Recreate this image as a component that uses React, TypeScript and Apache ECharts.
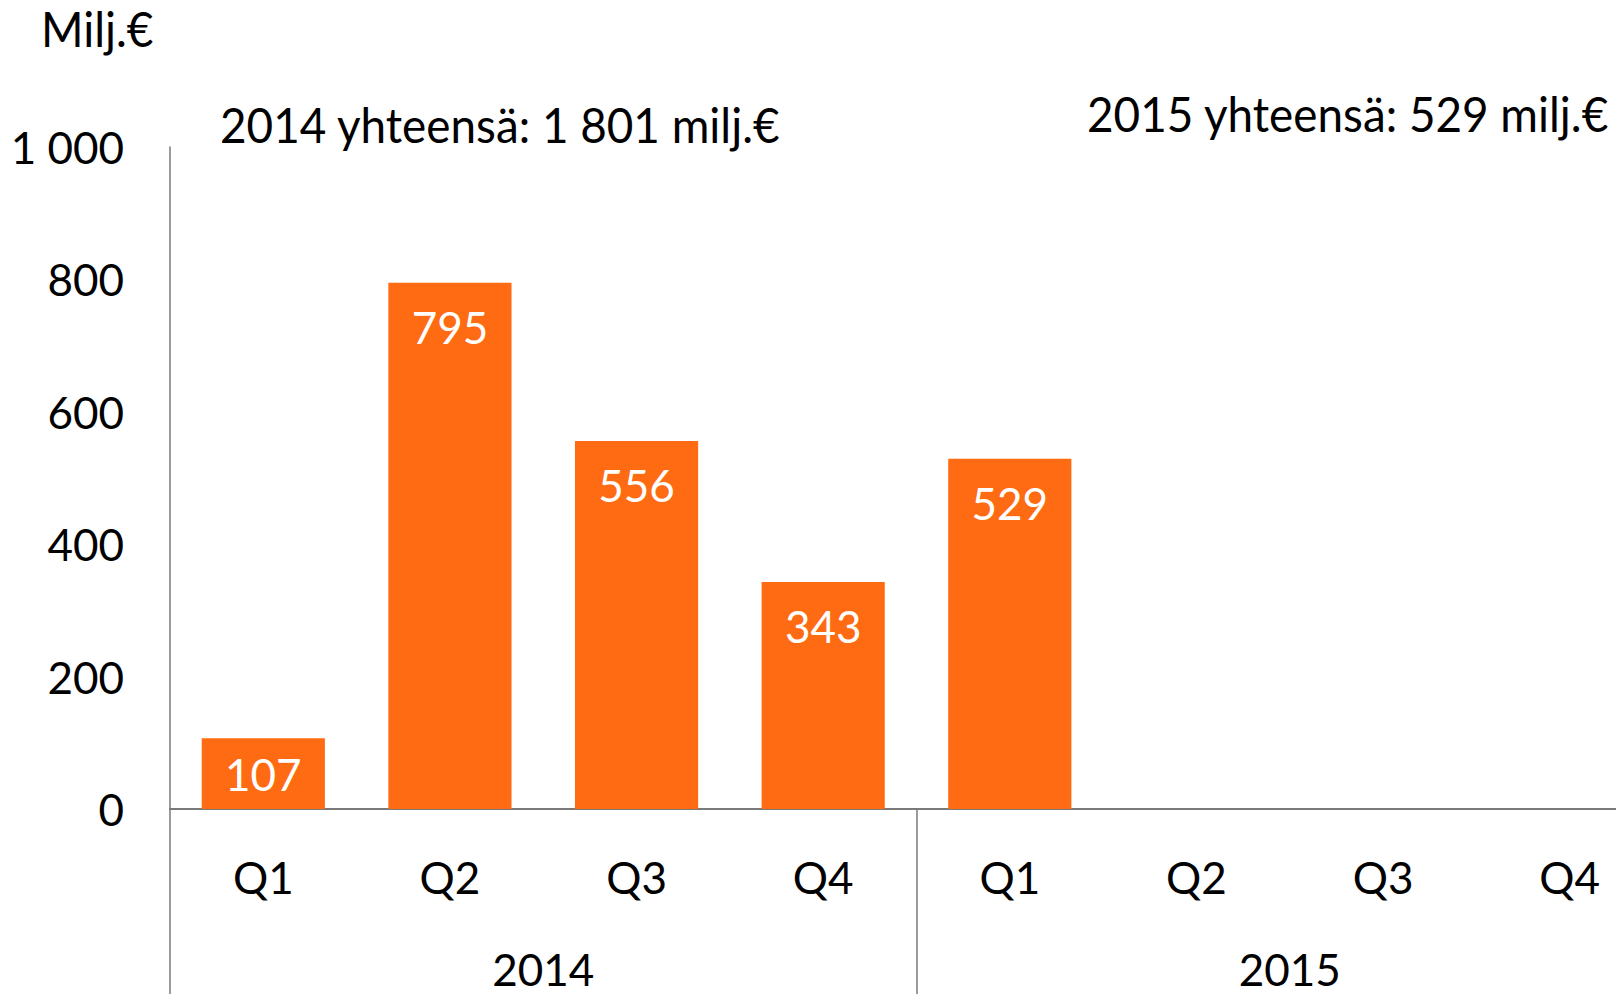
import React, { useEffect, useRef } from "react";
import * as echarts from "echarts";

const quarters = ["Q1", "Q2", "Q3", "Q4", "Q1", "Q2", "Q3", "Q4"];
const years = ["2014", "2015"];
const values: (number | null)[] = [107, 795, 556, 343, 529, null, null, null];
const yTicks = [0, 200, 400, 600, 800, 1000];
const unitLabel = "Milj.€";
const total2014 = "2014 yhteensä: 1 801 milj.€";
const total2015 = "2015 yhteensä: 529 milj.€";

const FONT = "Lato, sans-serif";
const AXIS = "#7a7a7a";
const CHART_W = 1700;

export default function App() {
  const ref = useRef<HTMLDivElement>(null);
  useEffect(() => {
    if (!ref.current) return;
    const chart = echarts.init(ref.current, undefined, { renderer: "svg" });
    chart.setOption({
      animation: false,
      backgroundColor: "#ffffff",
      textStyle: { fontFamily: FONT },
      grid: {
        left: 170,
        top: 147,
        bottom: 185,
        right: CHART_W - 1663,
        containLabel: false,
        outerBoundsMode: "none",
      },
      xAxis: [
        {
          type: "category",
          data: quarters,
          position: "bottom",
          axisLine: { show: true, lineStyle: { color: AXIS, width: 2 } },
          axisTick: { show: false },
          axisLabel: { color: "#000", fontSize: 44, lineHeight: 44, fontFamily: FONT, margin: 46, interval: 0 },
        },
        {
          type: "category",
          data: years,
          position: "bottom",
          axisLine: { show: false },
          axisTick: { show: true, length: 200, interval: 0, lineStyle: { color: AXIS, width: 1.5 } },
          axisLabel: { color: "#000", fontSize: 44, lineHeight: 44, fontFamily: FONT, margin: 138, interval: 0 },
        },
      ],
      yAxis: {
        type: "value",
        min: yTicks[0],
        max: yTicks[yTicks.length - 1],
        interval: 200,
        splitLine: { show: false },
        axisLine: { show: true, lineStyle: { color: AXIS, width: 1.5 } },
        axisTick: { show: false },
        axisLabel: {
          color: "#000",
          fontSize: 44,
          fontFamily: FONT,
          margin: 46,
          formatter: (v: number) => (v >= 1000 ? String(v).replace(/\B(?=(\d{3})+(?!\d))/g, " ") : String(v)),
        },
      },
      series: [
        {
          type: "bar",
          data: values.map((v) =>
            v != null && v < 150 ? { value: v, label: { position: "inside" } } : v
          ),
          xAxisIndex: 0,
          barCategoryGap: "34%",
          itemStyle: { color: "#FF6B12" },
          label: {
            show: true,
            position: "insideTop",
            distance: 22,
            color: "#fff",
            fontSize: 44,
            fontFamily: FONT,
          },
        },
      ],
      graphic: [
        {
          type: "text",
          x: 41,
          y: 5,
          scaleX: 0.955,
          style: { text: unitLabel, fontSize: 48, fontFamily: FONT, fill: "#000", verticalAlign: "top" },
        },
        {
          type: "text",
          x: 220,
          y: 101,
          scaleX: 0.955,
          style: { text: total2014, fontSize: 48, fontFamily: FONT, fill: "#000", verticalAlign: "top" },
        },
        {
          type: "text",
          x: 1087,
          y: 90,
          scaleX: 0.955,
          style: { text: total2015, fontSize: 48, fontFamily: FONT, fill: "#000", verticalAlign: "top" },
        },
      ],
    });
    return () => chart.dispose();
  }, []);
  return (
    <div style={{ position: "absolute", left: 0, top: 0, width: 1616, height: 994, overflow: "hidden" }}>
      <div ref={ref} style={{ width: CHART_W, height: 994 }} />
    </div>
  );
}
